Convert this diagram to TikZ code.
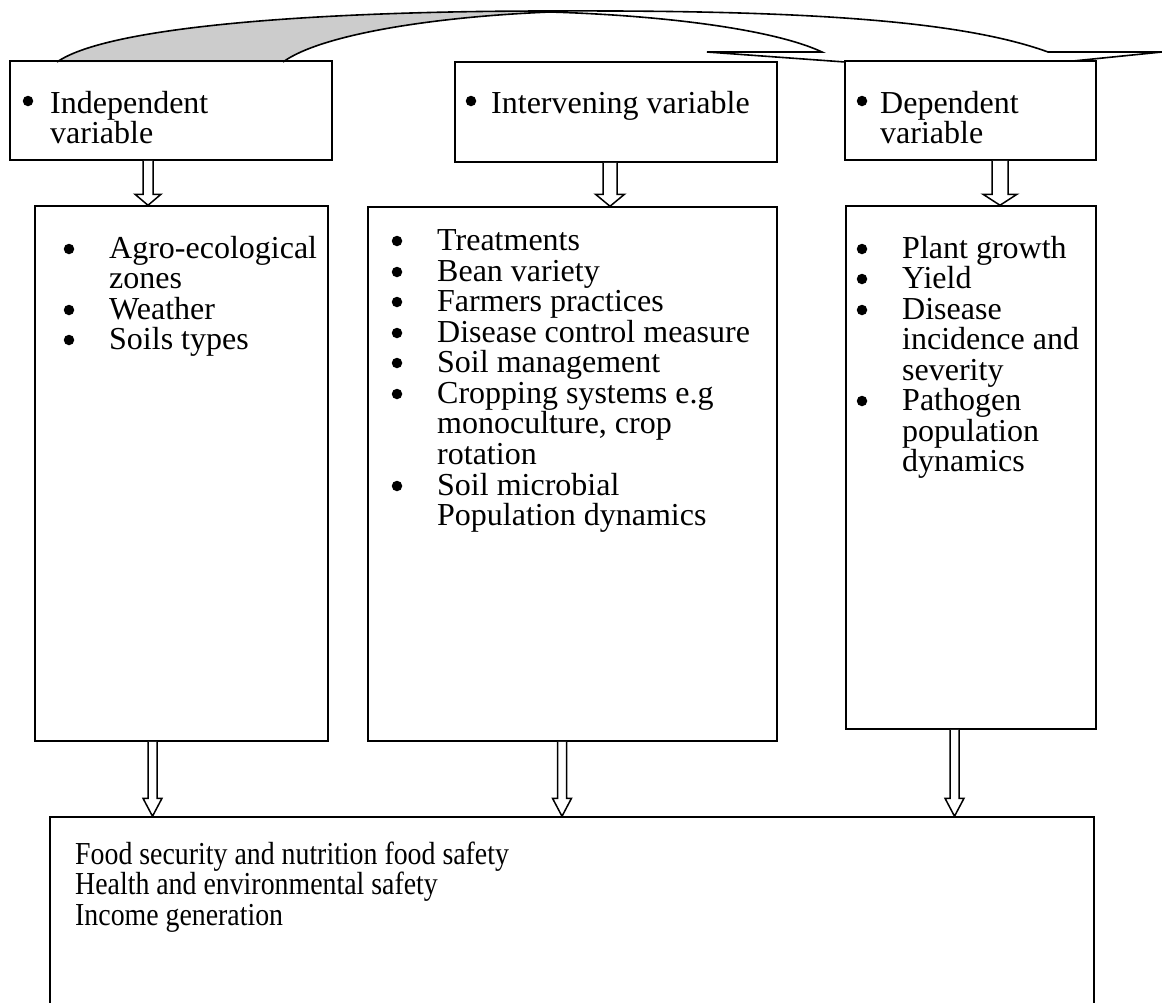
\documentclass[tikz,border=0pt]{standalone}
\usepackage{fontspec}
\setmainfont{Liberation Serif}
\newfontfamily\narrowserif[FakeStretch=0.87]{Liberation Serif}
\usetikzlibrary{calc,fit}
\newcommand\blockarr[6]{%
  \draw[barrow] let \p1=(#2.south), \p2=(#3.north) in
    (#1pt-#4pt,\y1) -- (#1pt-#4pt,\y2+#6pt) -- (#1pt-#5pt,\y2+#6pt) -- (#1pt,\y2)
    -- (#1pt+#5pt,\y2+#6pt) -- (#1pt+#4pt,\y2+#6pt) -- (#1pt+#4pt,\y1);}
\begin{document}
\begin{tikzpicture}[x=1pt,y=-1pt,
  box/.style={draw, line width=1.5pt, inner sep=0pt},
  txt/.style={anchor=base west, inner sep=0pt, font=\fontsize{32}{32}\selectfont},
  ntxt/.style={anchor=base west, inner sep=0pt, font=\narrowserif\fontsize{32}{32}\selectfont},
  bul/.style={fill, circle, inner sep=0pt, minimum size=10.5pt},
  barrow/.style={line width=1.5pt, fill=white, line join=miter},
  curv/.style={line width=1.6pt}]
\clip (0,0) rectangle (1162,1002);
\fill[white] (0,0) rectangle (1162,1002);
% curved arrow
\fill[black!20] (57,62) .. controls (110,25) and (330,11) .. (550,11)
   -- (550,12) .. controls (430,17) and (320,35) .. (283,62) -- cycle;
\draw[curv] (57,62) .. controls (110,25) and (330,11) .. (550,11)
   .. controls (800,10) and (960,20) .. (1048,52) -- (1162,52) -- (1073,61);
\draw[curv] (283,62) .. controls (320,35) and (430,17) .. (550,12)
   .. controls (680,16) and (780,32) .. (822,52) -- (707,52) -- (845,62);
% boxes
\node[box, fit={(10,61) (332,160)}] (ind) {};
\node[box, fit={(455,62) (777,162)}] (int) {};
\node[box, fit={(845,61) (1096,160)}] (dep) {};
\node[box, fit={(35,206) (328,741)}] (indl) {};
\node[box, fit={(368,207) (777,741)}] (intl) {};
\node[box, fit={(846,206) (1096,729)}] (depl) {};
\node[box, fit={(50,817) (1094,1020)}] (res) {};
% block arrows
\blockarr{148}{ind}{indl}{5}{13}{11}
\blockarr{610}{int}{intl}{7}{14.5}{12}
\blockarr{1000}{dep}{depl}{8}{17}{11}
\blockarr{152.5}{indl}{res}{4.5}{9.5}{18}
\blockarr{562}{intl}{res}{4.5}{9.5}{18}
\blockarr{954.5}{depl}{res}{4.5}{9.5}{18}
% top texts
\node[bul] (bi) at (28,101) {};
\node[txt] (ti1) at (50,113) {Independent};
\node[txt] (ti2) at (50,143) {variable};
\node[bul] (bv) at (471,101) {};
\node[txt] (tv1) at (491,113) {Intervening variable};
\node[bul] (bd) at (862,101) {};
\node[txt] (td1) at (880,113) {Dependent};
\node[txt] (td2) at (880,143) {variable};
% left list
\node[bul] (l1) at (69,249) {};
\node[txt] (lt1) at (109,258) {Agro-ecological};
\node[txt] (lt2) at (109,288) {zones};
\node[bul] (l2) at (69,310) {};
\node[txt] (lt3) at (109,319) {Weather};
\node[bul] (l3) at (69,340) {};
\node[txt] (lt4) at (109,349) {Soils types};
% middle list
\node[bul] (m1) at (397,241) {};
\node[txt] (mt1) at (437,250) {Treatments};
\node[bul] (m2) at (397,272) {};
\node[txt] (mt2) at (437,281) {Bean variety};
\node[bul] (m3) at (397,302) {};
\node[txt] (mt3) at (437,311) {Farmers practices};
\node[bul] (m4) at (397,333) {};
\node[txt] (mt4) at (437,342) {Disease control measure};
\node[bul] (m5) at (397,363) {};
\node[txt] (mt5) at (437,372) {Soil management};
\node[bul] (m6) at (397,394) {};
\node[txt] (mt6) at (437,403) {Cropping systems e.g};
\node[txt] (mt7) at (437,433) {monoculture, crop};
\node[txt] (mt8) at (437,464) {rotation};
\node[bul] (m7) at (397,486) {};
\node[txt] (mt9) at (437,495) {Soil microbial};
\node[txt] (mt10) at (437,525) {Population dynamics};
% right list
\node[bul] (r1) at (862,249) {};
\node[txt] (rt1) at (902,258) {Plant growth};
\node[bul] (r2) at (862,279) {};
\node[txt] (rt2) at (902,288) {Yield};
\node[bul] (r3) at (862,310) {};
\node[txt] (rt3) at (902,319) {Disease};
\node[txt] (rt4) at (902,349) {incidence and};
\node[txt] (rt5) at (902,380) {severity};
\node[bul] (r4) at (862,401) {};
\node[txt] (rt6) at (902,410) {Pathogen};
\node[txt] (rt7) at (902,441) {population};
\node[txt] (rt8) at (902,471) {dynamics};
% bottom text
\node[ntxt] (bt1) at (75,864) {Food security and nutrition food safety};
\node[ntxt] (bt2) at (75,894) {Health and environmental safety};
\node[ntxt] (bt3) at (75,925) {Income generation};
\end{tikzpicture}
\end{document}
